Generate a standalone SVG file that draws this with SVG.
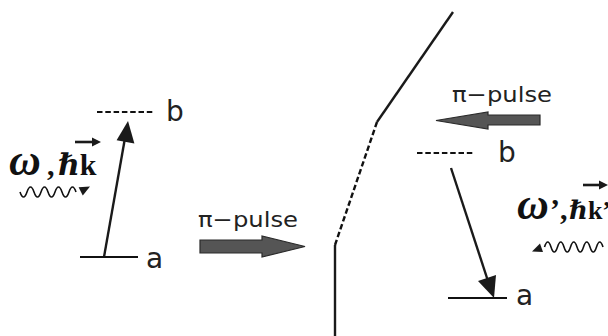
<svg xmlns="http://www.w3.org/2000/svg" width="608" height="336" viewBox="0 0 608 336">
<style>
.lvl{stroke:#111;stroke-width:2;fill:none}
.dash{stroke:#111;stroke-width:2.2;stroke-dasharray:5.5 2.8;fill:none}
.ln{stroke:#1a1a1a;stroke-width:2.4;fill:none}
.head{fill:#1a1a1a}
.lab{font-family:"DejaVu Sans",sans-serif;font-size:28px;fill:#222}
.pulse{font-family:"DejaVu Sans",sans-serif;font-size:21px;fill:#222}
.blk{fill:#555;stroke:#2a2a2a;stroke-width:1.2}
.sym{font-family:"Liberation Serif","DejaVu Serif",serif;font-size:30px;font-weight:bold;fill:#111}
.om{font-size:44px;font-style:italic}
.wave{stroke:#111;stroke-width:1.6;fill:none}
</style>
<g id="connectors">
<path class="ln" d="M104,257 L125,138"/>
<polygon class="head" points="128,121 116.6,140.3 134.4,143.5"/>
<path class="ln" d="M451,168 L488,281"/>
<polygon class="head" points="494,298 478,281 496,275"/>
</g>
<g id="wall">
<path class="ln" d="M453,12 L377,122"/>
<path class="dash" d="M377,122 L335,245" style="stroke-width:2.4"/>
<path class="ln" d="M335,245 L335,336"/>
</g>
<g id="left-b">
<path class="dash" d="M97,112 L155,112"/>
<text class="lab" x="166" y="121">b</text>
</g>
<g id="left-a">
<path class="lvl" d="M80,257 L138,257"/>
<text class="lab" x="146" y="268">a</text>
</g>
<g id="left-photon">
<text class="sym" x="9" y="175"><tspan class="om">ω</tspan><tspan x="47">,</tspan><tspan x="58">ℏk</tspan></text>
<path class="ln" d="M75,142 L94,142" style="stroke-width:2.6"/>
<polygon class="head" points="101,142 92,137.5 92,146.5"/>
<path class="wave" d="M20,192 q3.5,10 7,0 t7,0 t7,0 t7,0 t7,0 t7,0 t7,0 t7,0"/>
<polygon class="head" points="90,186.5 82.8,195.5 78.6,187.3"/>
</g>
<g id="left-pulse">
<text class="pulse" x="198" y="227" textLength="100" lengthAdjust="spacingAndGlyphs">π−pulse</text>
<polygon class="blk" points="200,240 262,240 262,236 305,246.5 262,257 262,253 200,253"/>
</g>
<g id="right-pulse">
<text class="pulse" x="452" y="102" textLength="100" lengthAdjust="spacingAndGlyphs">π−pulse</text>
<polygon class="blk" points="540,115 488,115 488,112 436,120.5 488,129 488,125 540,125"/>
</g>
<g id="right-b">
<path class="dash" d="M417,153 L474,153"/>
<text class="lab" x="498" y="162">b</text>
</g>
<g id="right-a">
<path class="lvl" d="M448,298 L507,298"/>
<text class="lab" x="516" y="305">a</text>
</g>
<g id="right-photon">
<text class="sym" x="517" y="219"><tspan class="om">ω</tspan><tspan x="550">’,</tspan><tspan x="569" font-size="26">ℏk’</tspan></text>
<path class="ln" d="M583,185 L600,185" style="stroke-width:2.6"/>
<polygon class="head" points="608,185 599,180.5 599,189.5"/>
<path class="wave" d="M603,247 q-3.25,-10 -6.5,0 t-6.5,0 t-6.5,0 t-6.5,0 t-6.5,0 t-6.5,0 t-6.5,0 t-6.5,0 t-6.5,0"/>
<polygon class="head" points="532,251.5 543,252 540,243.5"/>
</g>
</svg>
